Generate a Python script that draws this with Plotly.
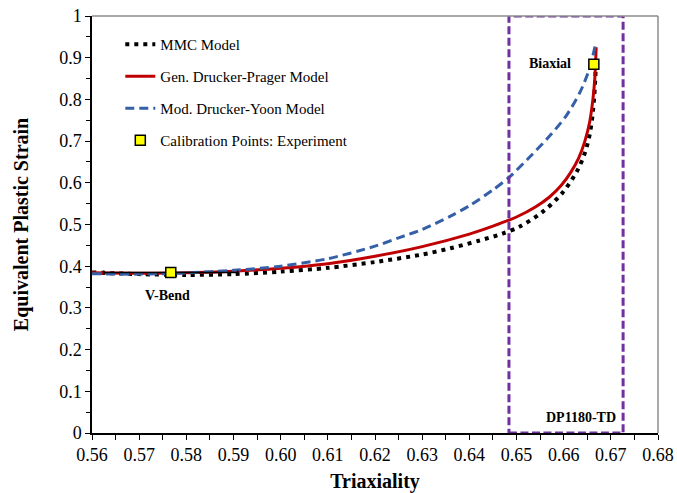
import plotly.graph_objects as go

# MMC model fracture locus (triaxiality vs. equivalent plastic strain)
mmc_x = [0.560, 0.570, 0.580, 0.590, 0.600, 0.610, 0.620, 0.630, 0.636, 0.642,
         0.647, 0.6507, 0.6554, 0.6596, 0.6628, 0.6645, 0.6655, 0.6661, 0.6665,
         0.6667, 0.6668]
mmc_y = [0.385, 0.381, 0.379, 0.381, 0.387, 0.396, 0.410, 0.428, 0.443, 0.461,
         0.478, 0.495, 0.529, 0.574, 0.627, 0.672, 0.715, 0.760, 0.810,
         0.850, 0.880]

# Generalized Drucker-Prager model
gdp_x = [0.560, 0.570, 0.580, 0.590, 0.600, 0.610, 0.620, 0.630, 0.640, 0.645,
         0.650, 0.654, 0.657, 0.6595, 0.6615, 0.6632, 0.6645, 0.6655, 0.6662,
         0.6666, 0.6669]
gdp_y = [0.384, 0.383, 0.384, 0.388, 0.395, 0.406, 0.424, 0.447, 0.477, 0.496,
         0.518, 0.542, 0.566, 0.594, 0.625, 0.660, 0.700, 0.745, 0.800,
         0.850, 0.925]

# Modified Drucker-Yoon model
mdy_x = [0.560, 0.570, 0.580, 0.590, 0.600, 0.610, 0.620, 0.625, 0.630, 0.636,
         0.640, 0.645, 0.6486, 0.6529, 0.657, 0.6605, 0.6635, 0.6655, 0.6667]
mdy_y = [0.382, 0.381, 0.384, 0.390, 0.400, 0.418, 0.448, 0.468, 0.488, 0.520,
         0.545, 0.583, 0.615, 0.663, 0.712, 0.760, 0.818, 0.875, 0.930]

# Calibration experiments
cal_names = ["V-Bend", "Biaxial"]
cal_x = [0.5767, 0.6664]
cal_y = [0.385, 0.884]
cal_err_x = [0.0142, 0.0]

serif = "Liberation Serif, Times New Roman, serif"

fig = go.Figure()

fig.add_trace(go.Scatter(
    x=mmc_x, y=mmc_y, mode="lines", name="MMC Model", legendgroup="a",
    line=dict(color="black", width=4, dash="4px,5px", shape="spline", smoothing=0.8),
))
fig.add_trace(go.Scatter(
    x=gdp_x, y=gdp_y, mode="lines", name="Gen. Drucker-Prager Model", legendgroup="b",
    line=dict(color="#C00000", width=3, shape="spline", smoothing=0.8),
))
fig.add_trace(go.Scatter(
    x=mdy_x, y=mdy_y, mode="lines", name="Mod. Drucker-Yoon Model", legendgroup="c",
    line=dict(color="#3560A8", width=3, dash="9px,5px", shape="spline", smoothing=0.8),
))
fig.add_trace(go.Scatter(
    x=cal_x, y=cal_y, mode="markers", name="Calibration Points: Experiment",
    legendgroup="d", text=cal_names,
    marker=dict(symbol="square", size=10, color="#FFFF00",
                line=dict(color="black", width=1.5)),
    error_x=dict(type="data", array=cal_err_x, visible=True,
                 color="black", thickness=1.5, width=2),
))

# Region of interest around biaxial tension
fig.add_shape(type="rect", xref="x", yref="y", x0=0.6484, x1=0.6726, y0=0, y1=1.0,
              line=dict(color="#7030A0", width=3, dash="8px,3.5px"), layer="above")

# Top and right frame lines
fig.add_shape(type="line", xref="paper", yref="paper", x0=0, x1=1, y0=1, y1=1,
              line=dict(color="#8c8c8c", width=1.5))
fig.add_shape(type="line", xref="paper", yref="paper", x0=1, x1=1, y0=0, y1=1,
              line=dict(color="#8c8c8c", width=1.5))

ann_font = dict(family=serif, size=14, color="black")
fig.add_annotation(x=0.6571, y=0.887, text="<b>Biaxial</b>", showarrow=False, font=ann_font)
fig.add_annotation(x=0.5761, y=0.329, text="<b>V-Bend</b>", showarrow=False, font=ann_font)
fig.add_annotation(x=0.6637, y=0.038, text="<b>DP1180-TD</b>", showarrow=False, font=ann_font)

fig.update_layout(
    width=677, height=493,
    margin=dict(l=92, r=19, t=16, b=60, autoexpand=False),
    plot_bgcolor="white", paper_bgcolor="white",
    font=dict(family=serif, color="black"),
    showlegend=True,
    legend=dict(
        x=0.05, y=0.971, xanchor="left", yanchor="top",
        font=dict(family=serif, size=15, color="black"),
        bgcolor="rgba(0,0,0,0)", traceorder="grouped", tracegroupgap=9.5,
        itemwidth=30,
    ),
    xaxis=dict(
        range=[0.56, 0.68], dtick=0.01, tick0=0.56, tickformat=".2f",
        showgrid=False, zeroline=False, automargin=False,
        showline=True, linecolor="black", linewidth=1.5,
        ticks="outside", ticklen=5, tickcolor="black", tickwidth=1.2,
        tickfont=dict(family=serif, size=18, color="black"),
        minor=dict(dtick=0.005, ticks="outside", ticklen=5, tickcolor="black", tickwidth=1.2),
        title=dict(text="<b>Triaxiality</b>", font=dict(family=serif, size=20, color="black"),
                   standoff=14),
    ),
    yaxis=dict(
        range=[0, 1], dtick=0.1,
        showgrid=False, zeroline=False, automargin=False,
        showline=True, linecolor="black", linewidth=1.5,
        ticks="outside", ticklen=5, tickcolor="black", tickwidth=1.2,
        tickfont=dict(family=serif, size=18, color="black"),
        minor=dict(dtick=0.05, ticks="outside", ticklen=4, tickcolor="black", tickwidth=1.2),
        title=dict(text="<b>Equivalent Plastic Strain</b>",
                   font=dict(family=serif, size=20, color="black"), standoff=25),
    ),
)

fig.write_html("out.html")
